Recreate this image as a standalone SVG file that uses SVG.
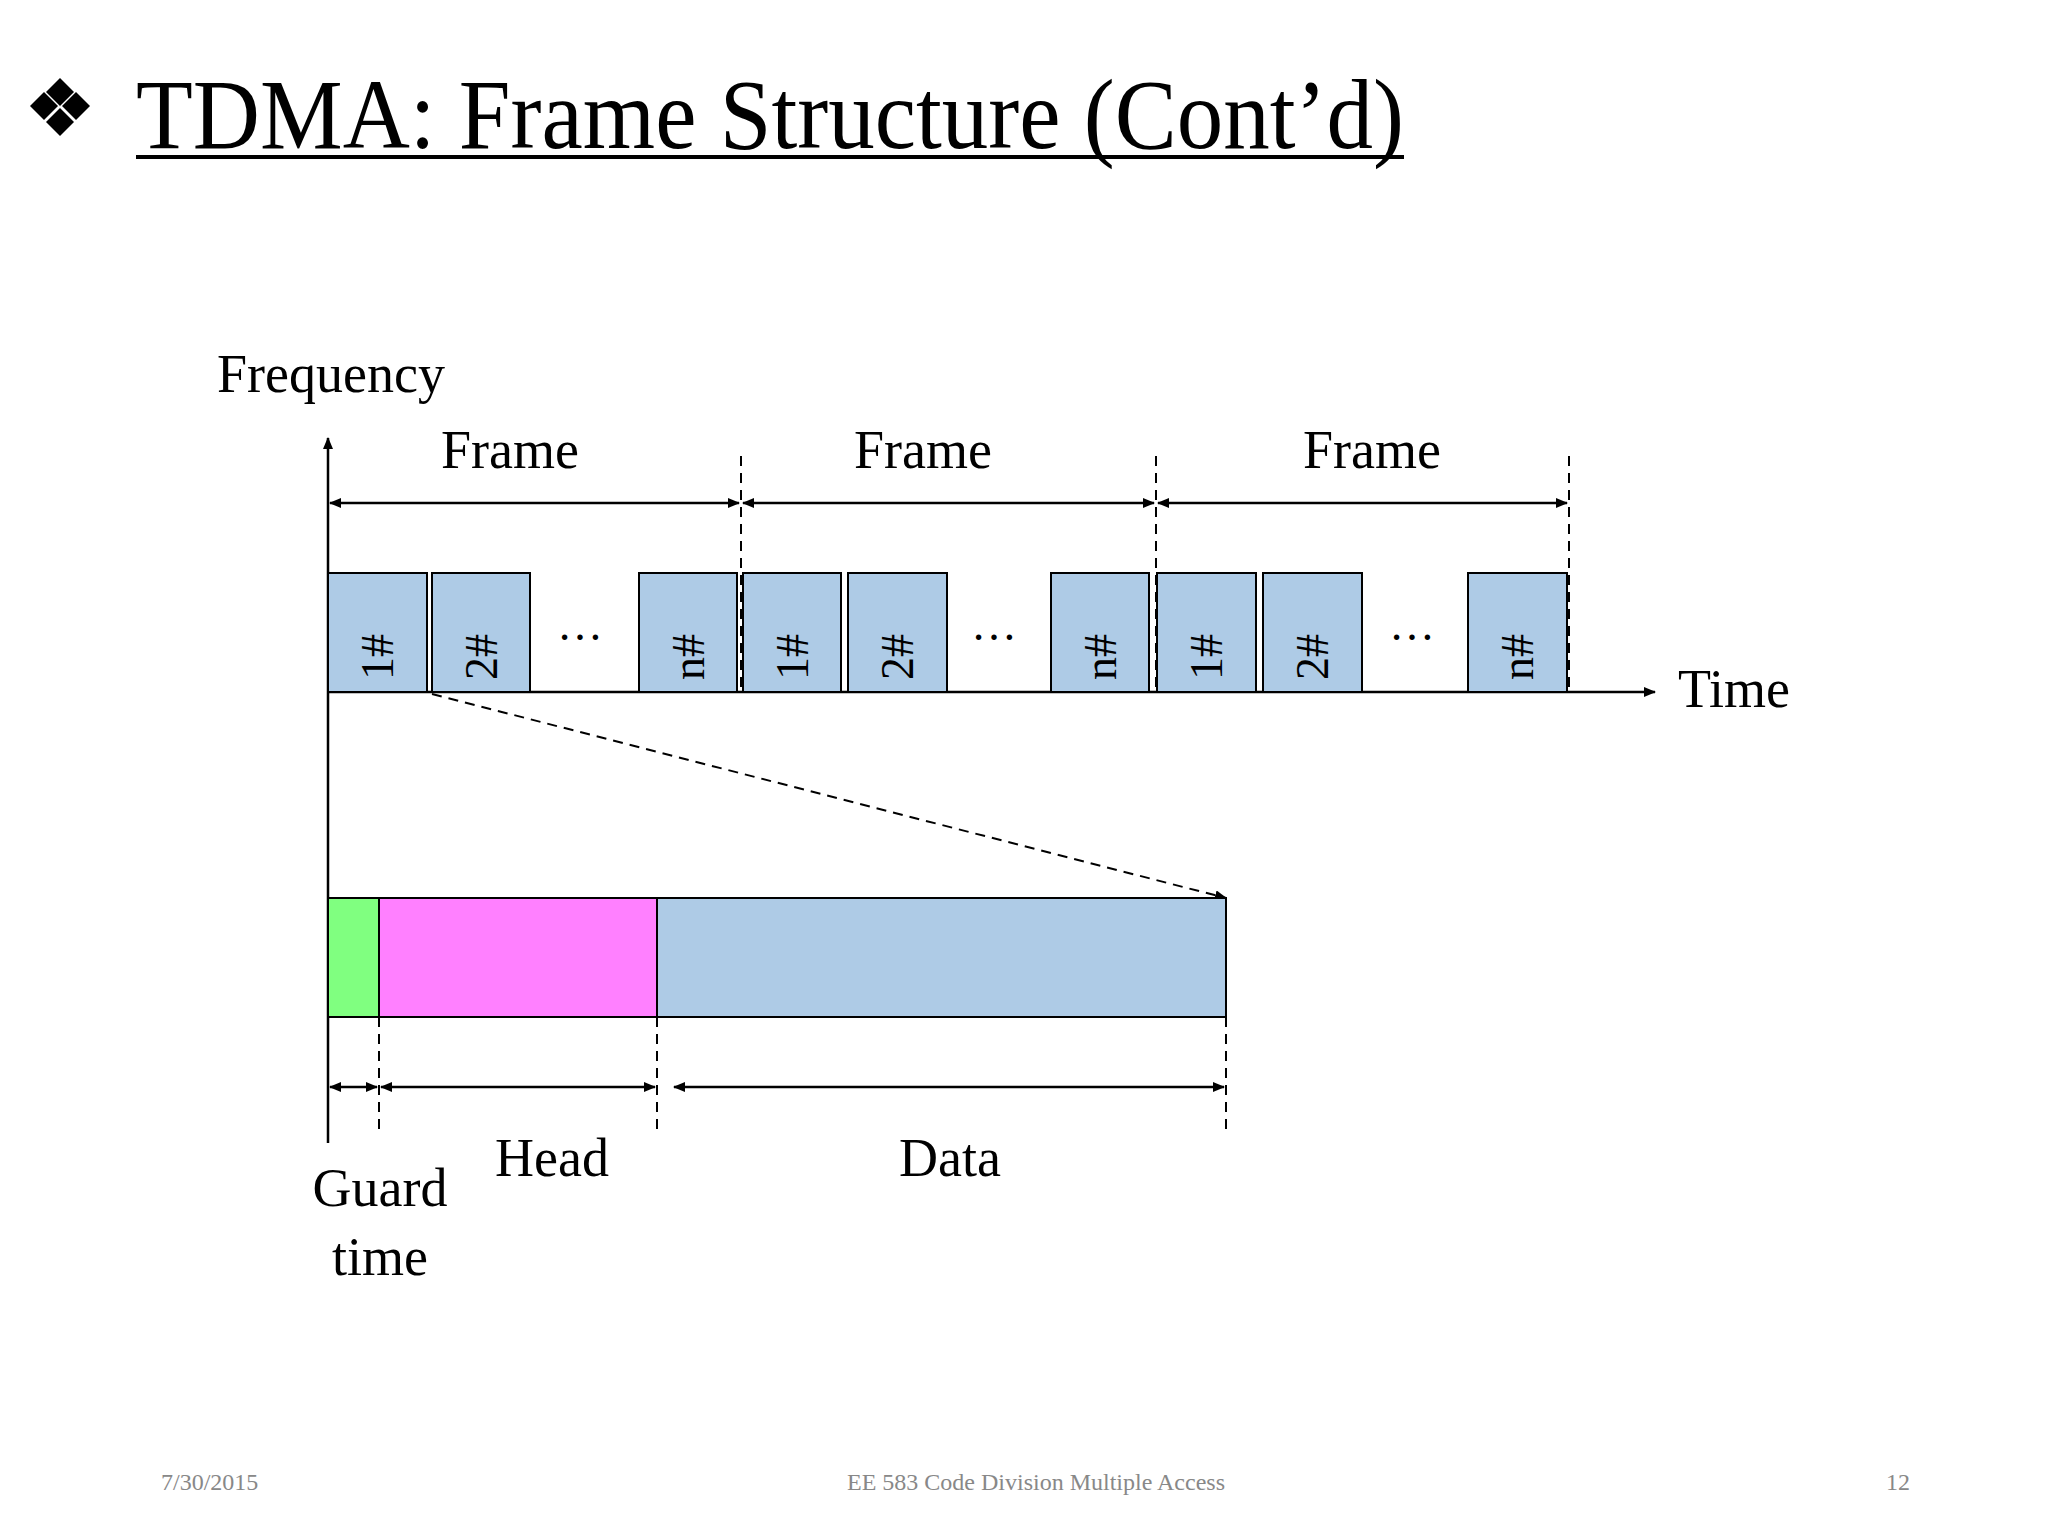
<svg xmlns="http://www.w3.org/2000/svg" width="2048" height="1536" viewBox="0 0 2048 1536">
<defs>
<style>
text{font-family:"Liberation Serif","Times New Roman",serif;fill:#000}
.lbl{font-size:54px}
.slot{fill:#AECBE6;stroke:#000;stroke-width:2}
.sl{font-size:46px}
.ln{stroke:#000;stroke-width:2.5;fill:none}
.dash{stroke:#000;stroke-width:2;stroke-dasharray:10 7;fill:none}
.foot{font-size:24px;fill:#888}
</style>
<marker id="ar" markerWidth="12" markerHeight="10" refX="11" refY="5" orient="auto-start-reverse" markerUnits="userSpaceOnUse"><path d="M0,0L12,5L0,10z" fill="#000"/></marker>
</defs>
<rect width="2048" height="1536" fill="#fff"/>
<g id="title">
<g fill="#000"><path d="M60,78l14,14l-14,14l-14-14z"/><path d="M44,92l14,14l-14,14l-14-14z"/><path d="M76,92l14,14l-14,14l-14-14z"/><path d="M60,108l14,14l-14,14l-14-14z"/></g>
<text x="136" y="148" font-size="100" textLength="1268" lengthAdjust="spacingAndGlyphs">TDMA: Frame Structure (Cont’d)</text>
<line x1="136" y1="157" x2="1404" y2="157" stroke="#000" stroke-width="4"/>
</g>
<g id="connectors">
<line class="ln" x1="328" y1="1143" x2="328" y2="438" marker-end="url(#ar)"/>
<line class="ln" x1="328" y1="692" x2="1655" y2="692" marker-end="url(#ar)"/>
<line class="dash" x1="741" y1="456" x2="741" y2="692"/>
<line class="dash" x1="1156" y1="456" x2="1156" y2="692"/>
<line class="dash" x1="1569" y1="456" x2="1569" y2="692"/>
<line class="ln" x1="330" y1="503" x2="739" y2="503" marker-start="url(#ar)" marker-end="url(#ar)"/>
<line class="ln" x1="743" y1="503" x2="1154" y2="503" marker-start="url(#ar)" marker-end="url(#ar)"/>
<line class="ln" x1="1158" y1="503" x2="1567" y2="503" marker-start="url(#ar)" marker-end="url(#ar)"/>
<line class="dash" x1="432" y1="694" x2="1226" y2="898" marker-end="url(#ar)"/>
<line class="dash" x1="379" y1="1017" x2="379" y2="1133"/>
<line class="dash" x1="657" y1="1017" x2="657" y2="1133"/>
<line class="dash" x1="1226" y1="1017" x2="1226" y2="1133"/>
<line class="ln" x1="330" y1="1087" x2="377" y2="1087" marker-start="url(#ar)" marker-end="url(#ar)"/>
<line class="ln" x1="381" y1="1087" x2="655" y2="1087" marker-start="url(#ar)" marker-end="url(#ar)"/>
<line class="ln" x1="674" y1="1087" x2="1224" y2="1087" marker-start="url(#ar)" marker-end="url(#ar)"/>
</g>
<g id="axis-labels">
<text class="lbl" x="217" y="392">Frequency</text>
<text class="lbl" x="1678" y="707">Time</text>
<text class="lbl" x="510" y="468" text-anchor="middle">Frame</text>
<text class="lbl" x="923" y="468" text-anchor="middle">Frame</text>
<text class="lbl" x="1372" y="468" text-anchor="middle">Frame</text>
</g>
<g id="slots">
<rect class="slot" x="328" y="573" width="99" height="119"/>
<rect class="slot" x="432" y="573" width="98" height="119"/>
<rect class="slot" x="639" y="573" width="98" height="119"/>
<rect class="slot" x="743" y="573" width="98" height="119"/>
<rect class="slot" x="848" y="573" width="99" height="119"/>
<rect class="slot" x="1051" y="573" width="98" height="119"/>
<rect class="slot" x="1157" y="573" width="99" height="119"/>
<rect class="slot" x="1263" y="573" width="99" height="119"/>
<rect class="slot" x="1468" y="573" width="99" height="119"/>
<g class="sl" text-anchor="middle">
<text transform="translate(393,657) rotate(-90)">1#</text>
<text transform="translate(497,657) rotate(-90)">2#</text>
<text transform="translate(704,657) rotate(-90)">n#</text>
<text transform="translate(808,657) rotate(-90)">1#</text>
<text transform="translate(913,657) rotate(-90)">2#</text>
<text transform="translate(1116,657) rotate(-90)">n#</text>
<text transform="translate(1222,657) rotate(-90)">1#</text>
<text transform="translate(1328,657) rotate(-90)">2#</text>
<text transform="translate(1533,657) rotate(-90)">n#</text>
</g>
<text class="sl" x="580" y="640" text-anchor="middle">…</text>
<text class="sl" x="994" y="640" text-anchor="middle">…</text>
<text class="sl" x="1412" y="640" text-anchor="middle">…</text>
</g>
<g id="slot-detail">
<rect x="328" y="898" width="51" height="119" fill="#80FF80" stroke="#000" stroke-width="2"/>
<rect x="379" y="898" width="278" height="119" fill="#FF80FF" stroke="#000" stroke-width="2"/>
<rect x="657" y="898" width="569" height="119" fill="#AECBE6" stroke="#000" stroke-width="2"/>
<text class="lbl" x="552" y="1176" text-anchor="middle">Head</text>
<text class="lbl" x="950" y="1176" text-anchor="middle">Data</text>
<text class="lbl" x="380" y="1206" text-anchor="middle">Guard</text>
<text class="lbl" x="380" y="1275" text-anchor="middle">time</text>
</g>
<g id="footer">
<text class="foot" x="161" y="1490">7/30/2015</text>
<text class="foot" x="1036" y="1490" text-anchor="middle">EE 583 Code Division Multiple Access</text>
<text class="foot" x="1910" y="1490" text-anchor="end">12</text>
</g>
</svg>
